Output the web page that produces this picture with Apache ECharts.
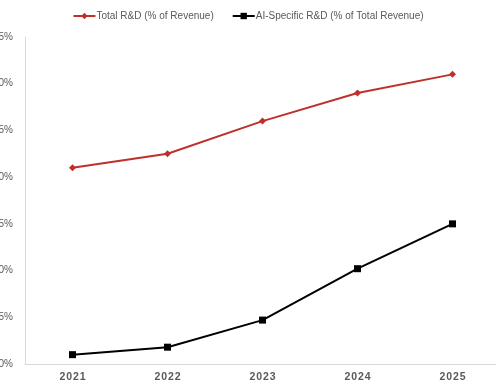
<!DOCTYPE html>
<html>
<head>
<meta charset="utf-8">
<script src="https://cdn.jsdelivr.net/npm/echarts@6/dist/echarts.min.js"></script>
<style>
  html, body { margin: 0; padding: 0; background: #fff; }
  #chart { width: 496px; height: 385px; }
</style>
</head>
<body>
<div id="chart"></div>
<script>
// Fiscal years on the x axis
const years = ['2021', '2022', '2023', '2024', '2025'];
// R&D spend as a share of revenue (%)
const totalRnD = [21.0, 22.5, 26.0, 29.0, 31.0];
const aiRnD = [1.0, 1.8, 4.7, 10.2, 15.0];

const chart = echarts.init(document.getElementById('chart'));
chart.setOption({
  animation: false,
  backgroundColor: '#ffffff',
  textStyle: { fontFamily: 'Liberation Sans, Arial, sans-serif' },
  legend: {
    top: 6,
    left: 'center',
    itemWidth: 22,
    itemHeight: 8,
    itemGap: 18,
    textStyle: { color: '#595959', fontSize: 10, padding: [0, 0, 0, -4] },
    data: ['Total R&D (% of Revenue)', 'AI-Specific R&D (% of Total Revenue)']
  },
  grid: { left: 25, right: -4, top: 37, bottom: 21, containLabel: false, outerBoundsMode: 'none' },
  xAxis: {
    type: 'category',
    data: years,
    boundaryGap: true,
    axisLine: { lineStyle: { color: '#d9d9d9', width: 1 } },
    axisTick: { show: false },
    axisLabel: { color: '#595959', fontSize: 10.5, fontWeight: 'bold', margin: 8,
      formatter: v => v.split('').join('\u200a') }
  },
  yAxis: {
    type: 'value',
    min: 0,
    max: 35,
    interval: 5,
    axisLine: { show: true, lineStyle: { color: '#d9d9d9', width: 1 } },
    axisTick: { show: false },
    splitLine: { show: false },
    axisLabel: { color: '#595959', fontSize: 10, margin: 12, formatter: '{value}%' }
  },
  series: [
    {
      name: 'Total R&D (% of Revenue)',
      type: 'line',
      data: totalRnD,
      color: '#c0302a',
      symbol: 'diamond',
      symbolSize: 7,
      lineStyle: { width: 2, color: '#c0302a' },
      itemStyle: { color: '#c0302a' }
    },
    {
      name: 'AI-Specific R&D (% of Total Revenue)',
      type: 'line',
      data: aiRnD,
      color: '#000000',
      symbol: 'rect',
      symbolSize: 7,
      lineStyle: { width: 2, color: '#000000' },
      itemStyle: { color: '#000000' }
    }
  ]
});
</script>
</body>
</html>
